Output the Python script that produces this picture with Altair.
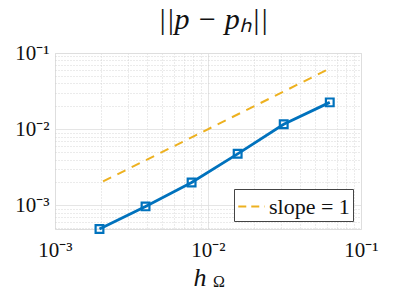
import altair as alt
import pandas as pd

# data
h = [1/512, 1/256, 1/128, 1/64, 1/32, 1/16]
err = [4.9e-4, 9.7e-4, 2.0e-3, 4.75e-3, 1.16e-2, 2.25e-2]
slope_x = [1/512, 1/16]
slope_y = [1/512, 1/16]
slope_name = ["slope = 1", "slope = 1"]
major = [1e-3, 1e-2, 1e-1]
major_labels = ["10⁻³", "10⁻²", "10⁻¹"]
x_domain = [1e-3, 1e-1]
y_domain = [4.9e-4, 1e-1]

SERIF = "Liberation Serif"

x_ticks = [m * k for m in [1e-3, 1e-2] for k in range(1, 10)] + [1e-1]
y_ticks = [m * k for m in [1e-4] for k in range(5, 10)] + \
          [m * k for m in [1e-3, 1e-2] for k in range(1, 10)] + [1e-1]

major_test = " || ".join(f"abs(datum.value-{v})<{v}*1e-6" for v in major)
label_expr = "''"
for v, l in reversed(list(zip(major, major_labels))):
    label_expr = f"abs(datum.value-{v})<{v}*1e-6 ? '{l}' : ({label_expr})"


def make_axis(values, **kw):
    return alt.Axis(
        values=values,
        labelExpr=label_expr,
        labelOverlap=False,
        labelFlush=False,
        labelFont=SERIF,
        labelFontSize=21,
        labelColor="#111",
        ticks=False,
        domain=False,
        grid=True,
        gridDash={"condition": {"test": major_test, "value": []}, "value": [1, 2]},
        gridColor={"condition": {"test": major_test, "value": "#dedede"}, "value": "#cdcdcd"},
        gridWidth=0.8,
        **kw,
    )


X = alt.X("h:Q", scale=alt.Scale(type="log", domain=x_domain, nice=False),
          axis=make_axis(x_ticks, title="h", titleFont=SERIF, titleFontSize=26,
                         titleFontStyle="italic", titleFontWeight="normal",
                         titlePadding=4, labelPadding=10, titleColor="#111",
                         titleX=138, titleAlign="left"))
Y = alt.Y("e:Q", scale=alt.Scale(type="log", domain=y_domain, nice=False),
          axis=make_axis(y_ticks, title=None, labelPadding=6))

df = pd.DataFrame({"h": h, "e": err})
df2 = pd.DataFrame({"h": slope_x, "e": slope_y, "name": slope_name})

line = alt.Chart(df).mark_line(color="#0072BD", strokeWidth=2.8).encode(x=X, y=Y)
pts = alt.Chart(df).mark_point(shape="square", filled=False, size=60,
                               strokeWidth=2.2, color="#0072BD", opacity=1).encode(x=X, y=Y)
slope = alt.Chart(df2).mark_line(strokeDash=[9, 7], strokeDashOffset=-4, strokeWidth=2).encode(
    x=X, y=Y,
    color=alt.Color("name:N", scale=alt.Scale(domain=["slope = 1"], range=["#EDB120"]),
                    legend=alt.Legend(title=None, orient="bottom-right", offset=8,
                                      symbolType="stroke", symbolDash=[8, 5],
                                      symbolStrokeWidth=2, symbolSize=700,
                                      labelFont=SERIF, labelFontSize=22, labelColor="#111",
                                      labelOffset=3,
                                      strokeColor="#444", fillColor="white",
                                      padding=3, cornerRadius=0)))
omega = alt.Chart(pd.DataFrame({"t": ["Ω"]})).mark_text(
    font=SERIF, fontSize=16, color="#111", align="left", baseline="alphabetic").encode(
    x=alt.value(158), y=alt.value(234), text="t:N")

chart = alt.layer(slope, line, pts, omega).properties(
    width=306, height=176,
    title=alt.TitleParams("||p − pₕ||", font=SERIF, fontSize=30, fontStyle="italic",
                          fontWeight="normal", color="#111", offset=7, dx=5),
    padding={"left": 47, "top": 45, "right": 28, "bottom": 62},
    autosize=alt.AutoSizeParams(type="none"),
).configure_view(stroke="#555", strokeWidth=1).configure(background="white")

chart.save("out.html", embed_options={"renderer": "svg", "actions": False})
